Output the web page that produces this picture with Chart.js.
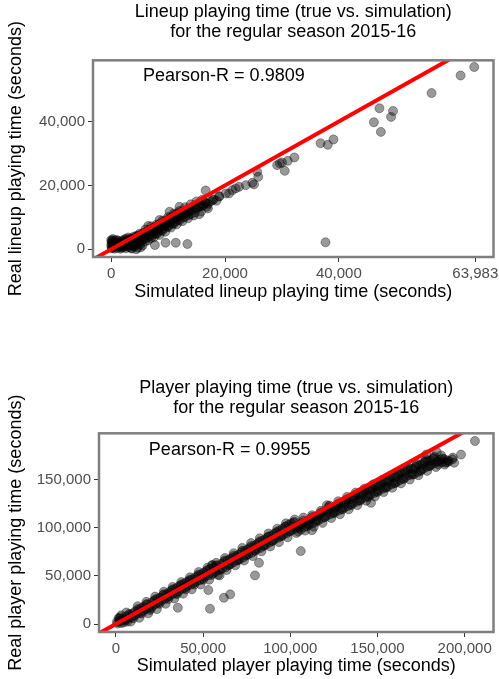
<!DOCTYPE html>
<html lang="en">
<head>
<meta charset="UTF-8">
<title>Playing time: true vs. simulation</title>
<script src="https://cdn.jsdelivr.net/npm/chart.js"></script>
<style>
  body { margin: 0; background: #fff; }
  #wrap { position: relative; width: 499px; height: 679px; }
  canvas { position: absolute; left: 0; }
</style>
</head>
<body>
<div id="wrap">
  <canvas id="lineupChart" width="499" height="305" style="top:0"></canvas>
  <canvas id="playerChart" width="499" height="339" style="top:340px"></canvas>
</div>
<script>
// ---- lineup chart: [simulated, real] playing time in seconds
const lineupPoints = [
  // outliers / sparse upper part
  [63800,57060],[61400,54400],[56300,48900],[47140,44150],[49530,43300],[49180,41440],
  [46160,39780],[47390,36750],[36790,33220],[38060,32690],[39060,34370],[37660,2190],
  [31030,27690],[32190,28750],[30500,24560],[29630,26870],[29160,26340],[30030,27190],
  [25670,24250],[25840,22690],[24790,20810],[25090,20310],[23640,20090],[22470,19560],
  [21300,18530],[21890,19060],[20730,17500],[20150,17500],[18980,16660],[17810,15410],
  [16600,18400],[16660,14380],[15490,13310],[7680,1340],[9550,2060],[11350,2060],[13390,1660],
  [12000,13300],[10250,11750],[8500,9200],[6500,7300],
  // dense band near the origin
  [0,2900],[100,2400],[50,1800],[0,1100],[150,500],[4400,0],[3600,200],[5200,600],
  [100,300],[200,1200],[300,2100],[150,2700],[400,600],[450,1700],
  [600,200],[700,1000],[800,2300],[900,1500],[650,2800],
  [1100,400],[1200,1300],[1300,2000],[1400,800],[1250,2600],
  [1600,200],[1700,1100],[1800,2400],[1900,1600],
  [2100,600],[2200,1400],[2300,2200],[2400,900],[2450,2900],
  [2600,300],[2700,1600],[2800,2500],[2900,1100],[2950,3100],
  [3100,700],[3200,1900],[3300,2800],[3400,1300],[3450,3400],
  [3600,400],[3700,2200],[3800,3300],[3900,1500],
  [4100,900],[4200,2600],[4300,3700],[4400,2000],[4450,4200],
  [4600,500],[4700,3000],[4800,4300],[4900,2300],
  [5100,1500],[5200,3500],[5300,4700],[5400,2800],
  [5600,3900],[5700,5200],[5800,3200],[5900,4500],
  [6100,4200],[6200,5600],[6300,3600],[6400,5000],
  [6600,4600],[6700,6000],[6800,4100],[6900,5400],
  [7100,5100],[7200,6500],[7300,4500],[7400,5800],
  [7600,5600],[7700,7000],[7800,5000],[7900,6300],
  [8100,6100],[8200,7500],[8300,5500],[8400,6800],
  [8600,6700],[8700,8100],[8800,6000],[8900,7300],
  [9100,7200],[9200,8600],[9300,6600],[9400,7900],
  [9600,7800],[9700,9100],[9800,7200],[9900,8500],
  [10100,8300],[10200,9700],[10300,7700],[10400,9000],
  [10600,8900],[10700,10200],[10800,8100],[10900,9600],
  [11100,9400],[11200,10800],[11300,8700],[11400,10100],
  [11600,10000],[11700,11300],[11800,9300],[11900,10600],
  [12200,10500],[12400,11900],[12600,9900],[12800,11200],
  [13200,11300],[13400,12600],[13600,10700],[13800,12000],
  [14100,12200],[14400,13200],[14700,11500],[14900,12800],
  [15200,13000],[15500,14000],[15800,11800],[15900,13500],
  [16200,13800],[16500,14600],[16800,13300],[17000,14200],
  [17500,15000],[18000,15600],[18500,15200],[19000,16500],
  // outer edges of the band
  [300,3200],[700,1700],[1000,2900],[1500,1500],[2000,2800],[2500,2000],[3000,3700],
  [3500,2600],[4000,4000],[4500,3300],[5000,4900],[5500,1200],[6000,6200],[6500,2800],
  [7000,7200],[7500,3800],[8000,7800],[8500,4500],[9000,9000],[9500,5500],[10000,10100],
  [10500,6800],[11000,11200],[11500,7800],[12000,12000],[12500,8800],[13000,13200],
  [13500,9700],[14000,14100],[14500,10600],[15000,15000],[15500,11000],[16000,15500],
  [17000,12800],
  // filling in the middle of the band
  [1000,2000],[1800,500],[2500,3300],[3000,1500],[3500,3000],[4000,1200],[4500,3800],
  [5000,1800],[5500,4400],[6000,2500],[6500,5400],[7000,3500],[7500,6400],[8000,4800],
  [8500,7200],[9000,5800],[9500,8200],[10000,7000],[10500,9400],[11000,8000],[11500,10400],
  [12000,9000],[12500,11000],[13000,10200],[13500,12000],[14000,11000]
];
const lineupXTicks = [0, 20000, 40000, 63983];
const lineupYTicks = [0, 20000, 40000];
const lineupXRange = [-3199, 67182];
const lineupYRange = [-2406, 59156];
const lineupPearson = 0.9809;

// ---- player chart: [simulated, real] playing time in seconds
const playerPoints = [
  // outliers
  [205900,190000],[197900,175900],[193200,172800],[146300,125800],[106000,75700],
  [82050,63550],[79770,50480],[52990,35240],[65530,30790],[61940,27260],[35500,16900],
  [53960,15860],[55440,61160],[121000,123400],[112400,97400],[184000,178500],[178000,176000],
  // band
  [1000,500],[2000,3000],[3000,1000],[4000,5000],[1500,6000],[3500,3500],[500,2000],[2500,7000],
  [5500,4000],[6000,8000],[7000,5500],[8000,9500],[9000,7000],[6500,2500],[9500,11000],
  [10500,8500],[11000,13000],[12000,10500],[13000,14500],[14000,11500],[14500,16500],
  [15500,13500],[16000,18000],[17000,15500],[18000,20500],[19000,17000],[19500,14500],
  [20500,22500],[21000,18500],[22000,24000],[23000,21000],[24000,26500],[24500,22000],
  [25500,27500],[26000,24000],[27000,30000],[28000,26000],[29000,31000],[29500,28000],
  [30500,33000],[31000,29000],[32000,35000],[33000,31500],[34000,36500],[34500,32000],
  [35500,38500],[36000,34000],[37000,40000],[38000,36500],[39000,42000],[39500,37500],
  [40500,43500],[41000,39500],[42000,45000],[43000,41000],[44000,46500],[44500,42500],
  [45500,48500],[46000,44000],[47000,50000],[48000,45500],[49000,51500],[49500,47000],
  [50500,53500],[51000,49000],[52000,55000],[53000,50500],[54000,57000],[55000,61000],
  [55500,52500],[56000,58500],[57000,54000],[58000,60500],[59000,56000],[59500,50500],
  [60500,62500],[61000,57500],[62000,64500],[63000,59000],[64000,66000],[64500,61000],
  [65500,67500],[66000,62500],[67000,69000],[68000,64500],[69000,70500],[69500,66000],
  [70500,72000],[71000,67000],[72000,74500],[73000,69000],[74000,76000],[74500,71000],
  [75500,77500],[76000,72500],[77000,79000],[78000,74000],[79000,81000],[79500,76000],
  [80500,82500],[81000,78000],[82000,84500],[83000,79000],[84000,86500],[84500,81000],
  [85500,88000],[86000,82500],[87000,90000],[88000,84500],[89000,91500],[89500,86000],
  [90500,93500],[91000,88000],[92000,95000],[93000,89500],[94000,97000],[94500,91000],
  [95500,99000],[96000,92500],[97000,101000],[98000,94500],[99000,103000],[99500,96000],
  [100500,104500],[101000,97500],[102000,105500],[103000,99000],[104000,101500],[104500,96000],
  [105500,103000],[106000,98000],[107000,105000],[108000,100500],[109000,106000],[109500,101500],
  [110500,107500],[111000,103000],[112000,109000],[113000,104500],[114000,111000],[114500,106000],
  [115500,112500],[116000,107500],[117000,114000],[118000,109500],[119000,116500],[119500,111000],
  [120500,118000],[121000,112500],[122000,121500],[123000,114000],[124000,119500],[124500,115500],
  [125500,121000],[126000,116500],[127000,123000],[128000,118000],[129000,124500],[129500,119500],
  [130500,126000],[131000,121000],[132000,128000],[133000,122500],[134000,129500],[134500,124000],
  [135500,131000],[136000,125500],[137000,132500],[138000,127000],[139000,134000],[139500,128500],
  [140500,135500],[141000,130000],[142000,137000],[143000,131500],[144000,138500],[144500,133000],
  [145500,140000],[146000,134500],[147000,141000],[148000,136000],[149000,143000],[149500,137500],
  [150500,144000],[151000,139000],[152000,145500],[153000,140500],[154000,147000],[154500,142000],
  [155500,148500],[156000,143000],[157000,150000],[158000,145000],[159000,152000],[159500,146500],
  [160500,153000],[161000,147500],[162000,155000],[163000,149500],[164000,156500],[164500,151000],
  [165500,158000],[166000,152500],[167000,160000],[168000,154500],[169000,161500],[169500,156000],
  [170500,161000],[171000,155500],[172000,163000],[173000,157500],[174000,164500],[174500,159000],
  [175500,166000],[176000,161000],[177000,168000],[178000,163000],[179000,169000],[179500,164000],
  [180500,170000],[181000,165500],[182000,171500],[183000,167000],[184000,169000],[185000,165500],
  [186000,170500],[187000,168000],[188000,171000],[189000,167500],[190000,170000],[191000,169000],
  [193000,171000],[194000,167500],
  // outer edges of the band
  [3000,9000],[6000,12000],[8500,2500],[12500,18500],[13500,6500],[17500,23000],[18500,11000],
  [22500,28500],[23500,15500],[27500,33500],[28500,21000],[32500,38500],[33500,26500],
  [37500,43500],[38500,31500],[42500,48500],[43500,36000],[47500,54000],[48500,41000],
  [52500,58500],[53500,46000],[57500,63500],[58500,51000],[62500,68500],[63500,56000],
  [67500,73500],[68500,61000],[72500,79000],[73500,66000],[77500,84000],[78500,70500],
  [82500,89000],[83500,75500],[87500,94000],[88500,80500],[92500,99000],[93500,85000],
  [97500,104500],[98500,90000],[102500,108500],[103500,94500],[107500,110500],[108500,97000],
  [112500,113000],[113500,101000],[117500,117500],[118500,105000],[122500,123000],[123500,110000],
  [127500,127500],[128500,114000],[132500,132000],[133500,119000],[137500,136500],[138500,123500],
  [142500,140500],[143500,128000],[147500,145000],[148500,132500],[152500,149500],[153500,137000],
  [157500,154000],[158500,141500],[162500,158500],[163500,146000],[167500,163000],[168500,150000],
  [172500,167000],[173500,154500],[177500,171500],[178500,159000],[182500,174000],[183500,163000],
  [186500,175000],[188500,165500],
  // filling in the middle of the band
  [2000,5500],[4500,1500],[7500,10500],[10000,6000],[12500,15500],[15000,11000],[17500,20500],
  [20000,16000],[22500,25500],[25000,21000],[27500,31000],[30000,26000],[32500,36000],
  [35000,31000],[37500,41000],[40000,36000],[42500,46000],[45000,41000],[47500,51500],
  [50000,46000],[52500,56000],[55000,51000],[57500,61000],[60000,56500],[62500,66000],
  [65000,61500],[67500,71000],[70000,66500],[72500,76000],[75000,71500],[77500,81000],
  [80000,76500],[82500,86000],[85000,81500],[87500,91000],[90000,86500],[92500,96000],
  [95000,91500],[97500,101500],[100000,96500],[102500,106000],[105000,100000],[107500,107500],
  [110000,103500],[112500,111000],[115000,107500],[117500,115500],[120000,111000],
  [122500,119500],[125000,115000],[127500,125000],[130000,119000],[132500,129500],
  [135000,123500],[137500,134000],[140000,128000],[142500,138500],[145000,132000],
  [147500,142500],[150000,137000],[152500,147000],[155000,141500],[157500,152000],
  [160000,146000],[162500,156500],[165000,150500],[167500,161000],[170000,155000],
  [172500,165000],[175000,159500],[177500,169000],[180000,164000],[182500,172500],
  [185000,168500],[187500,172000],[190000,168000]
];
const playerXTicks = [0, 50000, 100000, 150000, 200000];
const playerYTicks = [0, 50000, 100000, 150000];
const playerXRange = [-9690, 216530];
const playerYRange = [-8290, 198000];
const playerPearson = 0.9955;

const FONT = '"Liberation Sans", Arial, sans-serif';
Chart.defaults.font.family = FONT;

// panel border + Pearson-R label
const panelBox = {
  id: 'panelBox',
  afterDatasetsDraw(chart, args, opts) {
    const { ctx, chartArea: a } = chart;
    ctx.save();
    ctx.strokeStyle = '#7f7f7f';
    ctx.lineWidth = 2.5;
    ctx.strokeRect(a.left, a.top, a.right - a.left, a.bottom - a.top);
    ctx.fillStyle = '#000';
    ctx.font = '18px ' + FONT;
    ctx.textAlign = 'center';
    ctx.textBaseline = 'middle';
    ctx.fillText(opts.text, chart.scales.x.getPixelForValue(opts.x), chart.scales.y.getPixelForValue(opts.y));
    ctx.restore();
  }
};

function fixedTicks(list) {
  return scale => { scale.ticks = list.map(v => ({ value: v })); };
}

function buildChart(id, o) {
  const lo = o.xRange[0], hi = o.xRange[1];
  return new Chart(document.getElementById(id), {
    type: 'scatter',
    data: {
      datasets: [
        {
          type: 'line',
          data: [{ x: lo, y: lo }, { x: hi, y: hi }],
          borderColor: '#ff0000',
          borderWidth: 4,
          pointRadius: 0,
          fill: false,
          clip: 0
        },
        {
          data: o.points.map(p => ({ x: p[0], y: p[1] })),
          backgroundColor: 'rgba(0,0,0,0.4)',
          borderColor: 'rgba(0,0,0,0.35)',
          borderWidth: 1,
          pointRadius: 4.5,
          clip: 0
        }
      ]
    },
    options: {
      responsive: false,
      animation: false,
      events: [],
      layout: { padding: { left: 0, right: 3, top: 0, bottom: 0 } },
      plugins: {
        legend: { display: false },
        tooltip: { enabled: false },
        title: {
          display: true,
          text: o.title,
          fullSize: false,
          color: '#000',
          font: { size: 18, weight: 'normal', lineHeight: 1.12 },
          padding: { top: o.titleTop, bottom: o.titleGap }
        },
        panelBox: { text: 'Pearson-R = ' + o.pearson, x: o.labelAt[0], y: o.labelAt[1] }
      },
      scales: {
        x: {
          type: 'linear',
          min: o.xRange[0],
          max: o.xRange[1],
          afterBuildTicks: fixedTicks(o.xTicks),
          afterFit: s => { s.height = o.xAxisHeight; s.paddingLeft = 0; s.paddingRight = 0; },
          border: { display: false },
          grid: { drawOnChartArea: false, tickLength: 5, tickColor: '#333' },
          ticks: {
            padding: 3, color: '#4d4d4d', font: { size: 15 },
            autoSkip: false, maxRotation: 0,
            callback: v => v.toLocaleString('en-US')
          },
          title: {
            display: true, text: o.xTitle, color: '#000',
            font: { size: 18 }, padding: { top: 0, bottom: 2 }
          }
        },
        y: {
          type: 'linear',
          min: o.yRange[0],
          max: o.yRange[1],
          afterBuildTicks: fixedTicks(o.yTicks),
          afterFit: s => { s.width = o.yAxisWidth; s.paddingTop = 0; s.paddingBottom = 0; },
          border: { display: false },
          grid: { drawOnChartArea: false, tickLength: 5, tickColor: '#333' },
          ticks: {
            padding: 3, color: '#4d4d4d', font: { size: 15 },
            autoSkip: false,
            callback: v => v.toLocaleString('en-US')
          },
          title: {
            display: true, text: o.yTitle, color: '#000',
            font: { size: 18 }, padding: { top: 5, bottom: 0 }
          }
        }
      }
    },
    plugins: [panelBox]
  });
}

buildChart('lineupChart', {
  title: ['Lineup playing time (true vs. simulation)', 'for the regular season 2015-16'],
  titleTop: 2, titleGap: 18,
  xTitle: 'Simulated lineup playing time (seconds)',
  yTitle: 'Real lineup playing time (seconds)',
  points: lineupPoints,
  xTicks: lineupXTicks, yTicks: lineupYTicks,
  xRange: lineupXRange, yRange: lineupYRange,
  pearson: lineupPearson, labelAt: [19800, 54150],
  xAxisHeight: 48, yAxisWidth: 93
});

buildChart('playerChart', {
  title: ['Player playing time (true vs. simulation)', 'for the regular season 2015-16'],
  titleTop: 38, titleGap: 15,
  xTitle: 'Simulated player playing time (seconds)',
  yTitle: 'Real player playing time (seconds)',
  points: playerPoints,
  xTicks: playerXTicks, yTicks: playerYTicks,
  xRange: playerXRange, yRange: playerYRange,
  pearson: playerPearson, labelAt: [65240, 181100],
  xAxisHeight: 47, yAxisWidth: 99
});
</script>
</body>
</html>
